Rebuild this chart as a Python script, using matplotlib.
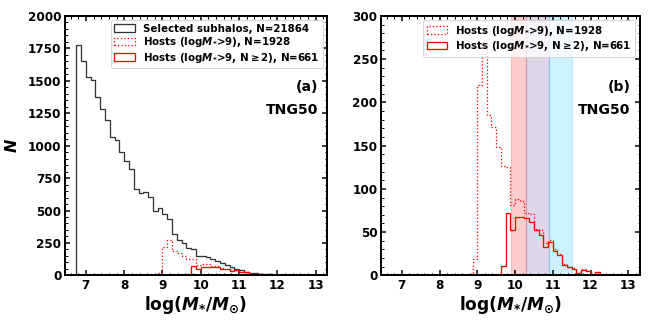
import numpy as np
import matplotlib
matplotlib.use("Agg")
import matplotlib.pyplot as plt
from matplotlib.ticker import MultipleLocator

# estilo general
plt.rcParams['font.family'] = 'DejaVu Sans'
plt.rcParams['font.weight'] = 'bold'
plt.rcParams['mathtext.fontset'] = 'custom'
plt.rcParams['mathtext.rm'] = 'DejaVu Sans:bold'
plt.rcParams['mathtext.it'] = 'DejaVu Sans:italic:bold'
plt.rcParams['mathtext.bf'] = 'DejaVu Sans:bold'

bin_width = 0.125

# subhalos seleccionados (bins desde 6.75)
sub_start = 6.75
sub_counts = [1778, 1655, 1529, 1506, 1372, 1285, 1195, 1069, 1043, 953,
              884, 822, 663, 632, 640, 606, 498, 516, 473, 436,
              316, 272, 247, 208, 200, 150, 148, 140, 125, 110,
              93, 80, 62, 52, 42, 30, 22, 16, 12, 8,
              8, 5, 3, 3, 2]

# hosts logM*>9 (bins desde 8.75)
host_start = 8.75
host_counts = [2, 19, 220, 270, 185, 172, 149, 126, 125, 81,
               88, 86, 72, 71, 54, 52, 37, 41, 30, 25,
               13, 10, 8, 3, 7, 5, 2, 4, 1]

# hosts logM*>9, N>=2 (bins desde 9.625)
multi_start = 9.625
multi_counts = [11, 72, 53, 68, 67, 66, 62, 52, 47, 33,
                39, 28, 24, 12, 10, 7, 3, 6, 5, 2,
                4, 1, 0, 0, 0, 0, 0, 0, 1]

# bandas de masa en el panel (b)
bands = [(9.9, 10.3), (10.3, 10.9), (10.9, 11.5)]
band_colors = ['red', 'rebeccapurple', 'deepskyblue']


def step_hist(ax, start, counts, **kw):
    e = start + bin_width * np.arange(len(counts) + 1)
    ax.hist(e[:-1], bins=e, weights=counts, histtype='step', **kw)


def format_axis(ax, ymax, ymajor, yminor):
    ax.set_xlim(6.45, 13.3)
    ax.set_ylim(0, ymax)
    ax.xaxis.set_major_locator(MultipleLocator(1))
    ax.xaxis.set_minor_locator(MultipleLocator(0.2))
    ax.yaxis.set_major_locator(MultipleLocator(ymajor))
    ax.yaxis.set_minor_locator(MultipleLocator(yminor))
    ax.tick_params(which='both', direction='in', top=True, right=True, labelsize=12)
    ax.tick_params(which='major', length=5, width=1.5)
    ax.tick_params(which='minor', length=2.5, width=1)
    for s in ax.spines.values():
        s.set_linewidth(2)
    ax.set_xlabel(r'$\log(M_{*}/M_{\odot})$', fontsize=17, labelpad=2)


def add_legend(ax):
    ax.legend(loc='upper right', borderaxespad=0.4, handlelength=2.0,
              labelspacing=0.15, borderpad=0.35, handletextpad=0.8,
              prop={'weight': 'bold', 'size': 10.3})


fig = plt.figure(figsize=(9, 4.5), dpi=72)
ax1 = fig.add_axes([0.100, 0.150, 0.405, 0.801])
ax2 = fig.add_axes([0.588, 0.150, 0.399, 0.801])

lab_sub = 'Selected subhalos, N=21864'
lab_host = r'Hosts (log$M_{*}$>9), N=1928'
lab_multi = r'Hosts (log$M_{*}$>9, N$\geq$2), N=661'

# panel (a)
step_hist(ax1, sub_start, sub_counts, color='#333333', lw=1.3, label=lab_sub)
step_hist(ax1, host_start, host_counts, color='red', ls=':', lw=1.3, label=lab_host)
step_hist(ax1, multi_start, multi_counts, color='red', lw=1.3, label=lab_multi)
format_axis(ax1, 2000, 250, 50)
ax1.set_ylabel(r'$N$', fontsize=16, labelpad=8)
add_legend(ax1)
ax1.text(0.965, 0.726, '(a)', transform=ax1.transAxes, ha='right', va='center', fontsize=14)
ax1.text(0.965, 0.637, 'TNG50', transform=ax1.transAxes, ha='right', va='center', fontsize=14)

# panel (b)
for (lo, hi), c in zip(bands, band_colors):
    ax2.axvspan(lo, hi, color=c, alpha=0.2, lw=1.2, zorder=0)
step_hist(ax2, host_start, host_counts, color='red', ls=':', lw=1.3, label=lab_host)
step_hist(ax2, multi_start, multi_counts, color='red', lw=1.3, label=lab_multi)
format_axis(ax2, 300, 50, 10)
add_legend(ax2)
ax2.text(0.965, 0.726, '(b)', transform=ax2.transAxes, ha='right', va='center', fontsize=14)
ax2.text(0.965, 0.637, 'TNG50', transform=ax2.transAxes, ha='right', va='center', fontsize=14)

fig.savefig('out.png', dpi=72)
